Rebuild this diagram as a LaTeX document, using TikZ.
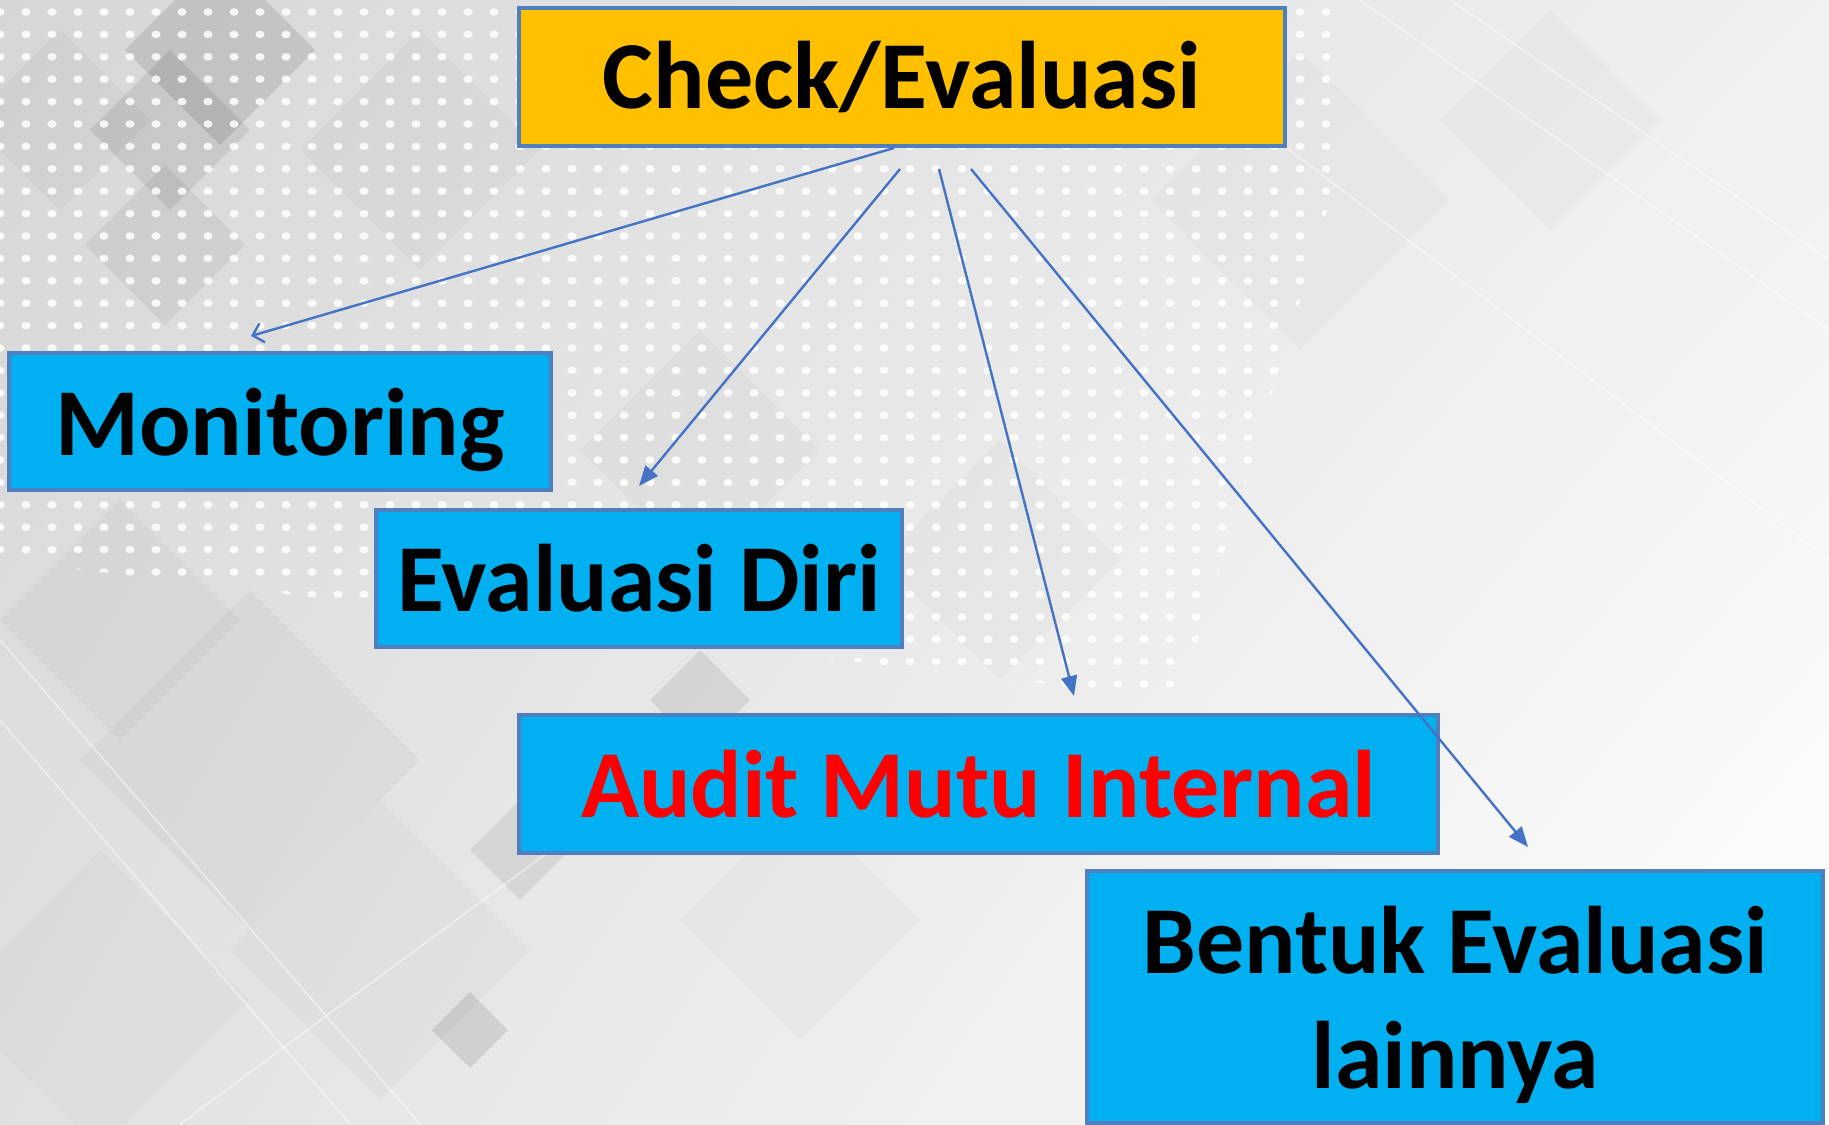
\documentclass[tikz,border=0pt]{standalone}
\usepackage{fontspec}
\setmainfont{Carlito}
\usetikzlibrary{arrows.meta,calc,shadings}
\definecolor{boxborder}{HTML}{4F7FBF}
\definecolor{boxyellow}{HTML}{FFC000}
\definecolor{boxcyan}{HTML}{00B0F0}
\definecolor{arrowblue}{HTML}{4472C4}
\definecolor{txtred}{HTML}{FF0000}
\tikzset{
  box/.style={draw=boxborder, line width=2pt, inner sep=0pt, align=center,
    font=\fontsize{48}{57.5}\selectfont\bfseries, text=black},
  conn/.style={draw=arrowblue, line width=1.2pt, -{Triangle[length=10pt,width=8pt]}},
  connopen/.style={draw=arrowblue, line width=1.2pt, -{Straight Barb[length=5pt,width=10pt]}},
}
\newcommand{\diam}[4]{\fill[black,opacity=#4] (#1-#3,#2) -- (#1,#2-#3) -- (#1+#3,#2) -- (#1,#2+#3) -- cycle;}
\begin{document}
\begin{tikzpicture}[x=0.5pt,y=-0.5pt]
% ---------- background ----------
\useasboundingbox (0,0) rectangle (1829,1124);
\shade[upper left=black!16, upper right=black!6, lower left=black!12, lower right=white] (0,0) rectangle (1829,1124);
% diamonds
\diam{220}{50}{95}{0.10}
\diam{170}{130}{80}{0.08}
\diam{165}{245}{80}{0.05}
\diam{60}{120}{90}{0.03}
\diam{420}{150}{120}{0.025}
\diam{700}{450}{120}{0.025}
\diam{700}{700}{50}{0.08}
\diam{520}{850}{50}{0.07}
\diam{470}{1030}{38}{0.10}
\diam{250}{760}{170}{0.03}
\diam{120}{620}{120}{0.03}
\diam{380}{950}{150}{0.025}
\diam{100}{1000}{150}{0.02}
\diam{1000}{560}{120}{0.02}
\diam{1300}{200}{150}{0.02}
\diam{1550}{120}{110}{0.02}
\diam{800}{920}{120}{0.02}
% white diagonal stripes
\begin{scope}[white, line width=0.8pt, opacity=0.5]
\draw (0,720) -- (350,1124);
\draw (0,640) -- (420,1124);
\draw (180,1124) -- (700,740);
\draw (1360,0) -- (1829,330);
\draw (1450,0) -- (1829,260);
\draw (1250,120) -- (1829,560);
\end{scope}
% dot grid
\begin{scope}
\clip (0,0) -- (1330,0) -- (1330,200) -- (1180,700) -- (0,560) -- cycle;
\foreach \i in {0,...,51} {
  \foreach \j in {0,...,31} {
    \fill[white, opacity=0.85] (\i*26,12+\j*22.4) ellipse (2.3pt and 1.9pt);
  }
}
\end{scope}
% ---------- boxes ----------
\node[box, fill=boxyellow, minimum width=383pt, minimum height=69pt] (check) at (902,77) {Check/Evaluasi};
\node[box, fill=boxcyan, minimum width=271pt, minimum height=68.5pt, text depth=0pt] (mon) at (280,421.5) {Monitoring};
\node[box, fill=boxcyan, minimum width=263pt, minimum height=68.5pt] (diri) at (639,578.5) {Evaluasi Diri};
\node[box, fill=boxcyan, minimum width=459.5pt, minimum height=69pt, text=txtred] (audit) at (978.5,784) {Audit Mutu Internal};
\node[box, fill=boxcyan, minimum width=368pt, minimum height=126pt, text depth=0pt] (bentuk) at (1455,997) {Bentuk Evaluasi\\lainnya};
% ---------- connector ends ----------
\coordinate (s1) at ($(check.south)+(-8,0)$);
\coordinate (e1) at ($(mon.north)+(-29,-15)$);
\coordinate (s2) at ($(check.south)+(-2,21)$);
\coordinate (e2) at ($(diri.north)+(0,-22)$);
\coordinate (s3) at ($(check.south)+(37,21)$);
\coordinate (e3) at ($(audit.north)+(95.5,-17)$);
\coordinate (s4) at ($(check.south)+(69,21)$);
\coordinate (e4) at ($(bentuk.north)+(73,-22)$);
\draw[connopen] (s1) -- (e1);
\draw[conn] (s2) -- (e2);
\draw[conn] (s3) -- (e3);
\draw[conn] (s4) -- (e4);
\end{tikzpicture}
\end{document}
